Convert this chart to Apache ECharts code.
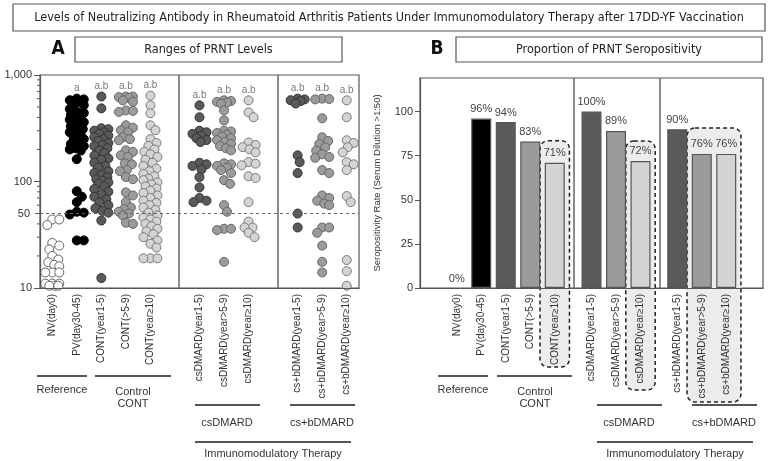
<!DOCTYPE html>
<html><head><meta charset="utf-8">
<script src="https://cdn.jsdelivr.net/npm/echarts@6/dist/echarts.min.js"></script>
<style>html,body{margin:0;padding:0;background:#fff}#c{width:778px;height:461px}</style>
</head><body><div id="c"></div>
<script>
// ---------------- DATA ----------------
const categories = ['NV(day0)','PV(day30-45)','CONT(year1-5)','CONT(>5-9)','CONT(year≥10)',
  'csDMARD(year1-5)','csDMARD(year>5-9)','csDMARD(year≥10)',
  'cs+bDMARD(year1-5)','cs+bDMARD(year>5-9)','cs+bDMARD(year≥10)'];
const sigLabels = ['', 'a', 'a.b', 'a.b', 'a.b', 'a.b', 'a.b', 'a.b', 'a.b', 'a.b', 'a.b'];
const titerNV = [44, 44, 39, 26.5, 25, 23, 20, 18.5, 17.5, 16.5, 16, 14, 14, 14, 11, 11, 11, 10.5, 10.5, 10.5];
const titerPV = [600, 590, 580, 560, 540, 520, 480, 450, 440, 420, 400, 390, 380, 360, 350, 330, 310, 300, 290, 270, 260, 250, 235, 225, 215, 205, 200, 195, 162, 81, 72, 64, 52, 51, 49, 28, 28];
const titerCont1 = [628, 486, 316, 310, 300, 290, 280, 270, 260, 250, 240, 230, 220, 215, 205, 195, 185, 175, 165, 160, 150, 140, 135, 125, 120, 115, 110, 105, 102, 98, 95, 90, 85, 80, 76, 72, 68, 64, 60, 56, 53, 51, 43, 12.4];
const titerCont2 = [628, 628, 620, 610, 578, 560, 465, 460, 450, 337, 320, 303, 290, 260, 250, 244, 196, 190, 176, 170, 148, 145, 128, 125, 110, 105, 79, 74, 64, 57, 55, 52, 50, 48, 41, 40];
const titerCont3 = [640, 519, 437, 337, 303, 250, 230, 216, 200, 190, 180, 170, 160, 150, 140, 132, 125, 118, 112, 106, 103, 98, 94, 90, 86, 82, 78, 74, 70, 66, 63, 60, 57, 54, 51, 48, 46, 44, 42, 40, 38, 36, 34, 32, 30, 28, 26, 24, 19, 19, 19];
const titerCs1 = [519, 401, 300, 290, 280, 270, 255, 245, 235, 150, 145, 140, 130, 110, 88, 70, 66, 64];
const titerCs2 = [578, 570, 560, 550, 540, 465, 375, 300, 295, 285, 275, 265, 255, 245, 235, 225, 215, 205, 196, 148, 145, 140, 135, 128, 120, 103, 95, 60, 52, 36, 35, 36, 17.6];
const titerCs3 = [578, 446, 401, 232, 220, 210, 200, 188, 152, 147, 142, 112, 108, 64, 42, 37, 37, 33, 30];
const titerCsb1 = [600, 590, 580, 570, 540, 176, 152, 120, 50, 37];
const titerCsb2 = [600, 595, 590, 392, 260, 240, 225, 210, 195, 180, 170, 167, 128, 120, 74, 70, 66, 62, 60, 37, 37, 33, 25, 17.6, 14];
const titerCsb3 = [578, 401, 244, 230, 210, 188, 152, 145, 128, 73, 64, 18.3, 14.4, 10.5];
const titers = [titerNV, titerPV, titerCont1, titerCont2, titerCont3, titerCs1, titerCs2, titerCs3, titerCsb1, titerCsb2, titerCsb3];
const seroRate = [0, 96, 94, 83, 71, 100, 89, 72, 90, 76, 76];
const cutoffTiter = 50;
const minorTicksA = [20, 30, 40, 50, 60, 70, 80, 90, 200, 300, 400, 500, 600, 700, 800, 900];

// ---------------- LAYOUT / STYLE ----------------
const slotsA = [0, 1, 2, 3, 4, 6, 7, 8, 10, 11, 12];
const slotsB = [0, 1, 2, 3, 4, 5.5, 6.5, 7.5, 9, 10, 11];
const sepA = [5.15, 9.18];
const sepB = [4.78, 8.3];
const fills = ['#ffffff','#000000','#5a5a5a','#9b9b9b','#d4d4d4','#5a5a5a','#9b9b9b','#d4d4d4','#5a5a5a','#9b9b9b','#d4d4d4'];
const strokes = ['#666','#000','#333','#666','#7a7a7a','#333','#666','#7a7a7a','#333','#666','#7a7a7a'];
const gridA = {left: 40, top: 75, width: 319, height: 213};
const gridB = {left: 420, top: 78, width: 343, height: 210};
const FONT = 'Liberation Sans, Arial, sans-serif';
const NARROW = 'Liberation Sans Narrow, DejaVu Sans Condensed, Arial Narrow, sans-serif';
const unitA = gridA.width / 13;

function yPixA(v) { return gridA.top + gridA.height * (3 - Math.log10(v)) / 2; }
function swarm(vals, d, maxOff) {
  const pts = vals.map((v, i) => ({i, y: yPixA(v)})).sort((a, b) => a.y - b.y);
  const placed = []; const off = new Array(vals.length);
  for (const p of pts) {
    let best = 0, bestScore = -1;
    for (let k = 0; k <= 2 * maxOff; k++) {
      const x = (k % 2 ? 1 : -1) * Math.ceil(k / 2);
      let minD = Infinity;
      for (const q of placed) { const dd = Math.hypot(x - q.x, p.y - q.y); if (dd < minD) minD = dd; }
      if (minD >= d) { best = x; bestScore = Infinity; break; }
      if (minD > bestScore) { bestScore = minD; best = x; }
    }
    placed.push({x: best, y: p.y}); off[p.i] = best;
  }
  return off;
}

const chart = echarts.init(document.getElementById('c'), null, {renderer: 'canvas'});

const seriesA = titers.map((vals, ci) => {
  const off = swarm(vals, 7, 7);
  return {
    type: 'scatter', xAxisIndex: 0, yAxisIndex: 0, symbol: 'circle', symbolSize: 9,
    data: vals.map((v, j) => [slotsA[ci] + off[j] / unitA, v]),
    itemStyle: {color: fills[ci], borderColor: strokes[ci], borderWidth: 1, opacity: 1},
    silent: true, z: 3
  };
});
seriesA[0].markLine = {
  silent: true, symbol: 'none', animation: false,
  data: [
    {yAxis: cutoffTiter, lineStyle: {type: [3, 3], color: '#666', width: 1.2},
     label: {show: true, position: 'start', formatter: String(cutoffTiter), color: '#333', fontSize: 11, fontFamily: FONT, distance: 10}},
    ...sepA.map(x => ({xAxis: x, lineStyle: {type: 'solid', color: '#666', width: 1.5}, label: {show: false}}))
  ]
};
// significance labels
seriesA.push({
  type: 'scatter', xAxisIndex: 0, yAxisIndex: 0, symbolSize: 9, silent: true, z: 4,
  itemStyle: {color: 'rgba(0,0,0,0)', borderWidth: 0},
  data: titers.map((vals, ci) => ({value: [slotsA[ci], Math.max(...vals)], lab: sigLabels[ci]})),
  label: {show: true, position: 'top', distance: 1, color: '#555', fontSize: 10, fontFamily: FONT,
    formatter: p => p.data.lab}
});
// minor ticks on log axis
seriesA.push({
  type: 'custom', xAxisIndex: 0, yAxisIndex: 0, clip: false, silent: true, z: 6,
  data: minorTicksA.map(v => [-0.5, v]),
  renderItem: (params, api) => {
    const v = api.value(1);
    const p = api.coord([-0.5, v]);
    const len = v === cutoffTiter ? 5 : 3;
    return {type: 'line', shape: {x1: p[0] - len, y1: p[1], x2: p[0], y2: p[1]}, style: {stroke: '#555', lineWidth: 1}};
  }
});

const seriesB = {
  type: 'bar', xAxisIndex: 1, yAxisIndex: 1, barWidth: 20, z: 3,
  data: seroRate.map((v, i) => ({value: [slotsB[i], v],
    itemStyle: {color: fills[i], borderColor: '#555', borderWidth: v === 0 ? 0 : 1.2}})),
  label: {show: true, position: 'top', distance: 4, color: '#444', fontSize: 11, fontFamily: FONT,
    formatter: p => p.value[1] + '%'},
  markLine: {silent: true, symbol: 'none', animation: false,
    data: sepB.map(x => ({xAxis: x, lineStyle: {type: 'solid', color: '#666', width: 1.5}, label: {show: false}}))}
};

function labelFor(slots) {
  return v => { const i = slots.findIndex(s => Math.abs(s - v) < 1e-6); return i >= 0 ? categories[i] : ''; };
}
const axisLineStyle = {color: '#555', width: 1.2};

const option = {
  animation: false,
  backgroundColor: '#fff',
  grid: [
    Object.assign({show: true, borderColor: '#555', borderWidth: 1.2, containLabel: false, outerBoundsMode: 'none'}, gridA),
    Object.assign({show: true, borderColor: '#555', borderWidth: 1.2, containLabel: false, outerBoundsMode: 'none'}, gridB)
  ],
  xAxis: [
    {type: 'value', gridIndex: 0, min: -0.5, max: 12.5, interval: 0.5, z: 5,
     axisLine: {show: true, onZero: false, lineStyle: axisLineStyle}, axisTick: {show: false}, splitLine: {show: false},
     axisLabel: {rotate: 90, margin: 6, fontSize: 10, color: '#333', fontFamily: FONT, formatter: labelFor(slotsA),
       showMinLabel: true, showMaxLabel: true, hideOverlap: false}},
    {type: 'value', gridIndex: 1, min: -1.5, max: 12.5, interval: 0.5, z: 5,
     axisLine: {show: true, onZero: false, lineStyle: axisLineStyle}, axisTick: {show: false}, splitLine: {show: false},
     axisLabel: {rotate: 90, margin: 6, fontSize: 10, color: '#333', fontFamily: FONT, formatter: labelFor(slotsB),
       showMinLabel: true, showMaxLabel: true, hideOverlap: false}}
  ],
  yAxis: [
    {type: 'log', logBase: 10, gridIndex: 0, min: 10, max: 1000, z: 5,
     name: 'PRNT Titer (Reverse of Serum Dilution)', nameLocation: 'middle', nameGap: 30,
     nameTextStyle: {fontSize: 9.5, color: '#333', fontFamily: FONT},
     axisLine: {show: true, onZero: false, lineStyle: axisLineStyle}, axisTick: {show: true, length: 6, lineStyle: {color: '#555'}},
     splitLine: {show: false},
     axisLabel: {fontSize: 11, color: '#333', fontFamily: FONT, margin: 8, formatter: v => Number(v).toLocaleString('en-US')}},
    {type: 'value', gridIndex: 1, min: 0, max: 119, interval: 25, z: 5,
     name: 'Seropositivity Rate (Serum Dilution >1:50)', nameLocation: 'middle', nameGap: 38,
     nameTextStyle: {fontSize: 9.5, color: '#333', fontFamily: FONT},
     axisLine: {show: true, onZero: false, lineStyle: axisLineStyle}, axisTick: {show: true, length: 5, lineStyle: {color: '#555'}},
     splitLine: {show: false},
     axisLabel: {fontSize: 11, color: '#333', fontFamily: FONT, margin: 7, showMaxLabel: false}}
  ],
  series: [...seriesA, seriesB]
};
chart.setOption(option);

// ---------------- ANNOTATIONS ----------------
const g = [];
function rect(x, y, w, h, extra) { g.push(Object.assign({type: 'rect', shape: {x, y, width: w, height: h}, style: {fill: '#fff', stroke: '#555', lineWidth: 1.2}, z: 1}, extra || {})); }
function text(x, y, t, st) { g.push({type: 'text', x, y, z: 10, style: Object.assign({text: t, fill: '#333', align: 'center', verticalAlign: 'middle', font: '11px ' + FONT}, st || {})}); }
function hline(x1, x2, y) { g.push({type: 'line', z: 10, shape: {x1, y1: y, x2, y2: y}, style: {stroke: '#555', lineWidth: 2}}); }

rect(13, 4, 752, 27);
text(389, 17.5, 'Levels of Neutralizing Antibody in Rheumatoid Arthritis Patients Under Immunomodulatory Therapy after 17DD-YF Vaccination', {font: '12.5px ' + NARROW, fill: '#222'});
rect(75, 37, 267, 25);
text(208.5, 49.5, 'Ranges of PRNT Levels', {font: '12.5px ' + NARROW, fill: '#222'});
rect(456, 37, 306, 25);
text(609, 49.5, 'Proportion of PRNT Seropositivity', {font: '12.5px ' + NARROW, fill: '#222'});
text(58, 49, 'A', {font: 'bold 19px ' + NARROW, fill: '#111'});
text(437, 49, 'B', {font: 'bold 19px ' + NARROW, fill: '#111'});

// dashed highlight boxes (panel B)
const boxes = [{idx: [4], bottom: 367, pad: 22}, {idx: [7], bottom: 390, pad: 20}, {idx: [9, 10], bottom: 402, pad: 26}];
boxes.forEach(b => {
  const xs = b.idx.map(i => slotsB[i]);
  const left = chart.convertToPixel({gridIndex: 1}, [Math.min(...xs) - 0.6, 0])[0];
  const right = chart.convertToPixel({gridIndex: 1}, [Math.max(...xs) + 0.6, 0])[0];
  const top = chart.convertToPixel({gridIndex: 1}, [xs[0], Math.max(...b.idx.map(i => seroRate[i]))])[1] - b.pad;
  g.push({type: 'rect', z: 1, shape: {x: left, y: top, width: right - left, height: b.bottom - top, r: 8},
    style: {fill: '#ececec', stroke: '#222', lineWidth: 1.5, lineDash: [4, 3]}});
});

// group brackets
hline(37, 87, 376); text(62, 390, 'Reference');
hline(95, 171, 376); text(133, 392, 'Control'); text(133, 404, 'CONT');
hline(195, 260, 405); text(227, 423, 'csDMARD');
hline(290, 355, 405); text(322, 423, 'cs+bDMARD');
hline(195, 351, 442); text(273, 454, 'Immunomodulatory Therapy');
hline(438, 488, 376); text(463, 390, 'Reference');
hline(497, 572, 376); text(535, 392, 'Control'); text(535, 404, 'CONT');
hline(597, 662, 405); text(629, 423, 'csDMARD');
hline(692, 757, 405); text(724, 423, 'cs+bDMARD');
hline(597, 753, 442); text(675, 454, 'Immunomodulatory Therapy');

chart.setOption({graphic: {elements: g}});
</script></body></html>
